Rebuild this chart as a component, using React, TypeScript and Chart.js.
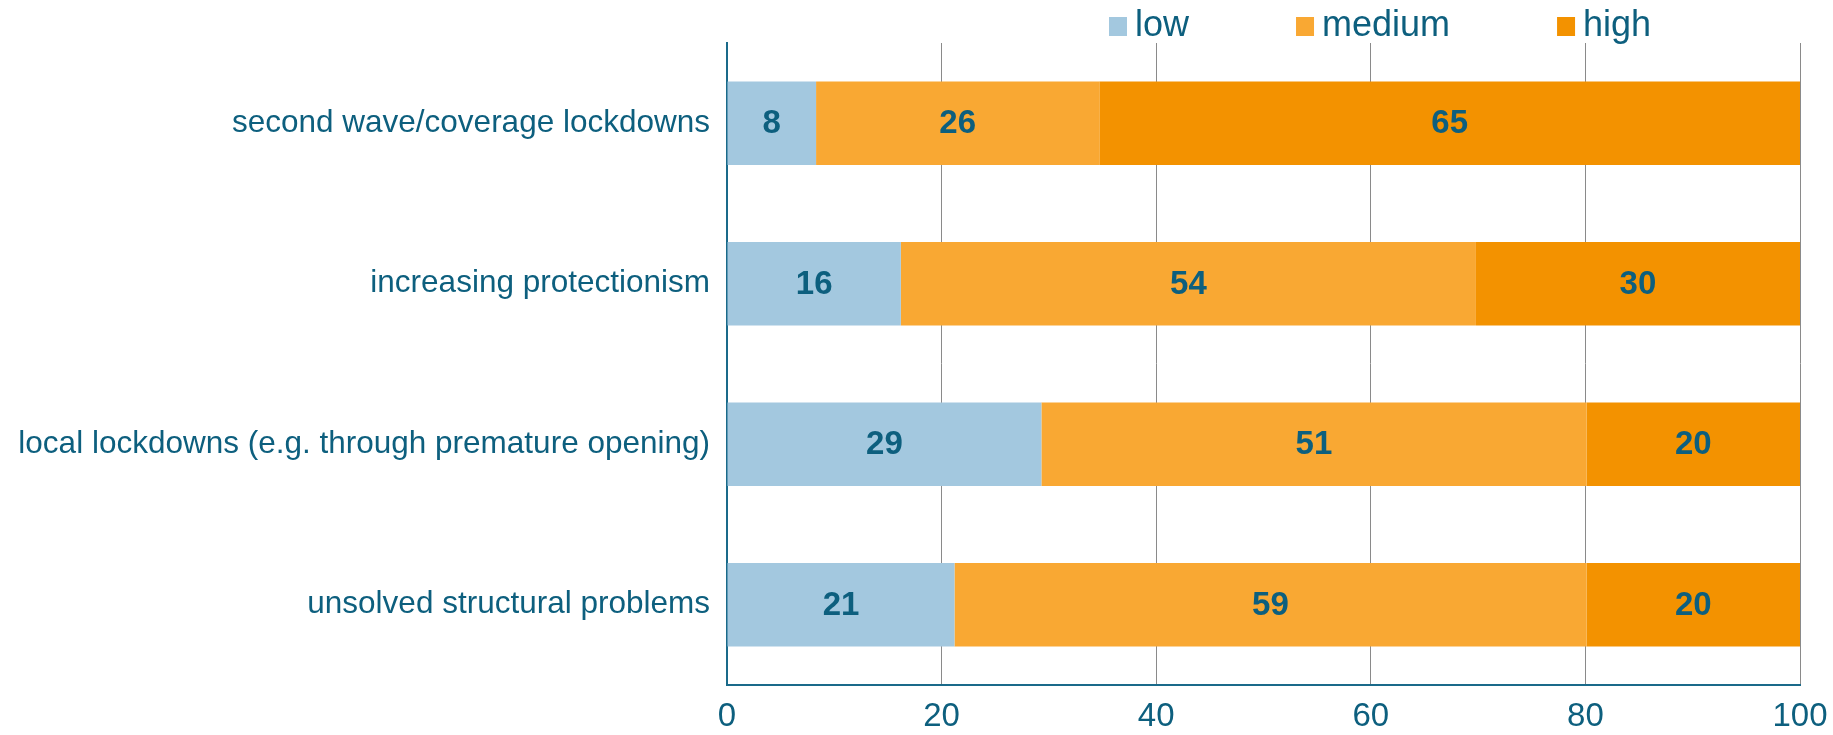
import React, { useEffect, useRef } from 'react';
import { Chart, registerables } from 'chart.js';

Chart.register(...registerables);

const categories = [
  'second wave/coverage lockdowns',
  'increasing protectionism',
  'local lockdowns (e.g. through premature opening)',
  'unsolved structural problems',
];
const seriesNames = ['low', 'medium', 'high'];
const lowValues = [8.3, 16.2, 29.3, 21.2];
const mediumValues = [26.4, 53.6, 50.8, 58.9];
const highValues = [65.3, 30.2, 19.9, 19.9];
const xMin = 0;
const xMax = 100;
const xStep = 20;

const TEXT = '#0D5F7E';
const AXIS = '#1A6A8A';
const GRID = '#8A8A8A';
const COLORS = ['#A3C8DF', '#F9A833', '#F39200'];
const FONT = '"Liberation Sans", Arial, Helvetica, sans-serif';

const valueLabels = {
  id: 'valueLabels',
  afterDatasetsDraw(chart: any) {
    const ctx = chart.ctx;
    ctx.save();
    ctx.font = `bold 33px ${FONT}`;
    ctx.fillStyle = TEXT;
    ctx.textAlign = 'center';
    ctx.textBaseline = 'middle';
    chart.data.datasets.forEach((ds: any, i: number) => {
      const meta = chart.getDatasetMeta(i);
      meta.data.forEach((el: any, j: number) => {
        const v = ds.data[j] as number;
        const { x, y, base } = el.getProps(['x', 'y', 'base'], true);
        ctx.fillText(String(Math.round(v)), (x + base) / 2, y + 1);
      });
    });
    ctx.restore();
  },
};

const topLegend = {
  id: 'topLegend',
  afterDraw(chart: any) {
    const ctx = chart.ctx;
    ctx.save();
    ctx.font = `36px ${FONT}`;
    ctx.textAlign = 'left';
    ctx.textBaseline = 'alphabetic';
    let x = 1109;
    chart.data.datasets.forEach((ds: any) => {
      ctx.fillStyle = ds.backgroundColor;
      ctx.fillRect(x, 17, 18, 19);
      ctx.fillStyle = TEXT;
      ctx.fillText(ds.label, x + 26, 36);
      x += 26 + ctx.measureText(ds.label).width + 107;
    });
    ctx.restore();
  },
};

export default function App() {
  const ref = useRef<HTMLCanvasElement | null>(null);

  useEffect(() => {
    if (!ref.current) return;
    const seriesValues = [lowValues, mediumValues, highValues];
    const chart = new Chart(ref.current, {
      type: 'bar',
      data: {
        labels: categories,
        datasets: seriesNames.map((name, i) => ({
          label: name,
          data: seriesValues[i],
          backgroundColor: COLORS[i],
          borderWidth: 0,
          categoryPercentage: 1,
          barPercentage: 0.52,
        })),
      },
      options: {
        indexAxis: 'y',
        responsive: false,
        animation: false,
        devicePixelRatio: 1,
        layout: { padding: { top: 43, right: 33, left: 0, bottom: 0 } },
        plugins: {
          legend: { display: false },
          tooltip: { enabled: false },
        },
        scales: {
          x: {
            stacked: true,
            min: xMin,
            max: xMax,
            ticks: {
              stepSize: xStep,
              color: TEXT,
              font: { family: FONT, size: 33 },
              padding: 12,
            },
            grid: { color: GRID, lineWidth: 1, drawTicks: false },
            border: { display: true, color: AXIS, width: 2 },
            afterFit(scale: any) {
              scale.height = 50;
              scale.paddingRight = 0;
              scale.paddingLeft = 0;
            },
          },
          y: {
            stacked: true,
            ticks: {
              color: TEXT,
              font: { family: FONT, size: 31.5 },
              padding: 17,
            },
            grid: { display: false, drawTicks: false },
            border: { display: true, color: AXIS, width: 2 },
            afterFit(scale: any) {
              scale.width = 727;
            },
          },
        },
      },
      plugins: [valueLabels, topLegend],
    });
    return () => chart.destroy();
  }, []);

  return (
    <div style={{ position: 'fixed', left: 0, top: 0, width: 1833, height: 735, background: '#fff' }}>
      <canvas ref={ref} width={1833} height={735} style={{ width: 1833, height: 735 }} />
    </div>
  );
}
